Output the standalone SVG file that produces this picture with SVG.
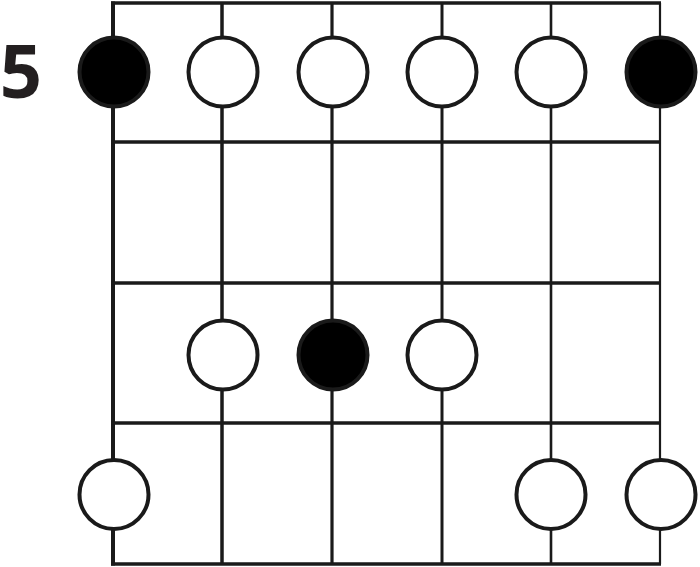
<svg xmlns="http://www.w3.org/2000/svg" width="700" height="567" viewBox="0 0 700 567">
<style>
.fret{stroke:#1a1a1a;stroke-width:3.5;fill:none}
.str{stroke:#1a1a1a;fill:none}
.o{fill:#fff;stroke:#1a1a1a;stroke-width:4}
.f{fill:#000;stroke:#1a1a1a;stroke-width:4}
.lbl{font-family:"Open Sans","Liberation Sans",sans-serif;font-weight:bold;font-size:74px;fill:#231f20}
</style>
<rect width="700" height="567" fill="#fff"/>
<g id="connectors">
<line class="str" x1="113" y1="1.5" x2="113" y2="565.5" stroke-width="4"/>
<line class="str" x1="222" y1="3" x2="222" y2="564" stroke-width="3.5"/>
<line class="str" x1="332" y1="3" x2="332" y2="564" stroke-width="3.2"/>
<line class="str" x1="442" y1="3" x2="442" y2="564" stroke-width="3"/>
<line class="str" x1="551" y1="3" x2="551" y2="564" stroke-width="2.6"/>
<line class="str" x1="660" y1="3" x2="660" y2="564" stroke-width="2.2"/>
<line class="fret" x1="111" y1="3" x2="661" y2="3"/>
<line class="fret" x1="111" y1="142" x2="661" y2="142"/>
<line class="fret" x1="111" y1="283" x2="661" y2="283"/>
<line class="fret" x1="111" y1="423" x2="661" y2="423"/>
<line class="fret" x1="111" y1="564" x2="661" y2="564"/>
</g>
<g id="label"><text class="lbl" x="21" y="98" text-anchor="middle">5</text></g>
<g id="n1"><circle class="f" cx="114" cy="72" r="34.5"/></g>
<g id="n2"><circle class="o" cx="223" cy="72" r="34.5"/></g>
<g id="n3"><circle class="o" cx="333" cy="72" r="34.5"/></g>
<g id="n4"><circle class="o" cx="442" cy="72" r="34.5"/></g>
<g id="n5"><circle class="o" cx="551" cy="72" r="34.5"/></g>
<g id="n6"><circle class="f" cx="661" cy="72" r="34.5"/></g>
<g id="n7"><circle class="o" cx="223" cy="355" r="34.5"/></g>
<g id="n8"><circle class="f" cx="333" cy="355" r="34.5"/></g>
<g id="n9"><circle class="o" cx="442" cy="355" r="34.5"/></g>
<g id="n10"><circle class="o" cx="114" cy="494.5" r="34.5"/></g>
<g id="n11"><circle class="o" cx="551" cy="494.5" r="34.5"/></g>
<g id="n12"><circle class="o" cx="661" cy="494.5" r="34.5"/></g>
</svg>
